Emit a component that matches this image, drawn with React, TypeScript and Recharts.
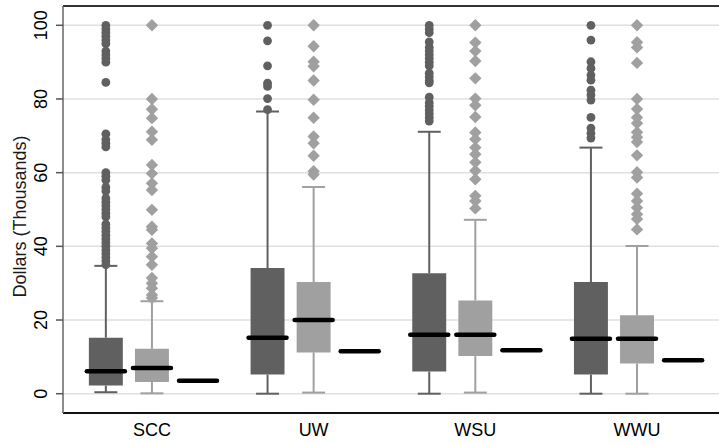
import React from "react";
import {
  ComposedChart,
  XAxis,
  YAxis,
  CartesianGrid,
  Scatter,
  ReferenceArea,
  ReferenceLine,
} from "recharts";

const categories = ["SCC", "UW", "WSU", "WWU"];

// dark boxes (circles as outliers)
const darkLow = [0.4, 0, 0, 0];
const darkQ1 = [2.2, 5.2, 6.0, 5.2];
const darkMedian = [6.1, 15.2, 16.0, 14.9];
const darkQ3 = [15.2, 34.1, 32.7, 30.3];
const darkHigh = [34.7, 76.6, 71.1, 66.8];
const darkOutliers = [
  [100, 99, 98, 97, 96, 95, 93, 92, 91, 90, 84.5, 70.5, 69, 68, 67, 60, 59, 58, 56, 55, 53, 52, 51, 50, 49, 48, 46, 45, 44, 43, 42, 41, 40, 39, 38, 37, 36, 35],
  [100, 95.8, 89, 84.3, 83.4, 80.1, 77.1],
  [100, 99, 98, 95.5, 94, 93, 92, 91, 90, 89, 87, 86, 85, 84.4, 80.5, 79, 78, 77, 76, 75, 74],
  [100, 96, 90.1, 88.3, 86.5, 85.1, 82.4, 81.1, 79.7, 75, 72.1, 70.7, 69.4],
];

// light boxes (diamonds as outliers)
const lightLow = [0.1, 0.3, 0.3, 0];
const lightQ1 = [3.2, 11.2, 10.2, 8.2];
const lightMedian = [7.0, 20.0, 16.0, 14.9];
const lightQ3 = [12.2, 30.3, 25.3, 21.3];
const lightHigh = [25.1, 56.1, 47.2, 40.1];
const lightOutliers = [
  [100, 80, 77.2, 74.8, 71.1, 68.9, 62.1, 59.8, 57.1, 55.3, 49.9, 45.3, 44.5, 40.8, 39.5, 37.2, 35, 31.4, 30, 28.6, 26.8, 26],
  [100, 94.3, 90.1, 88.9, 85, 79.8, 74.9, 69.8, 68, 64.6, 60.4, 59.5],
  [100, 95.3, 93, 90.3, 85.6, 80.1, 78.3, 75.1, 70.9, 69.1, 66.8, 65, 62.8, 60.5, 58.2, 53.7, 52.3, 50.3],
  [100, 95.4, 94, 89.8, 80, 77.3, 75, 73.4, 71, 69.6, 68.3, 64.7, 60.1, 58.7, 54.3, 52.3, 50.5, 48.7, 47.4, 44.6],
];

// third group: single value marker
const thirdValue = [3.5, 11.5, 11.8, 9.1];

const yTicks = [0, 20, 40, 60, 80, 100];

const DARK = "#606060";
const LIGHT = "#a0a0a0";
const FONT = "'Liberation Sans', Arial, sans-serif";

const Y_MIN = -5.24;
const Y_MAX = 105.24;
const SHIFT = 0.285; // slot spacing within a group
const BOX_HALF = 0.105;
const MED_HALF = 0.1175;
const CAP_HALF = 0.071;

const darkPoints = darkOutliers.flatMap((vals, i) =>
  vals.map((v) => ({ x: i + 1 - SHIFT, y: v }))
);
const lightPoints = lightOutliers.flatMap((vals, i) =>
  vals.map((v) => ({ x: i + 1, y: v }))
);

const Dot = (props: any) => (
  <circle cx={props.cx} cy={props.cy} r={4.4} fill={DARK} />
);

const Diamond = (props: any) => {
  const { cx, cy } = props;
  const s = 6.2;
  return (
    <polygon
      points={`${cx},${cy - s} ${cx + s},${cy} ${cx},${cy + s} ${cx - s},${cy}`}
      fill={LIGHT}
    />
  );
};

const YTick = (props: any) => {
  const { x, y, payload } = props;
  return (
    <text
      x={x - 15}
      y={y}
      transform={`rotate(-90 ${x - 15} ${y})`}
      textAnchor="middle"
      dominantBaseline="central"
      fill="#000"
      fontSize={18}
      fontFamily={FONT}
    >
      {payload.value}
    </text>
  );
};

const XTick = (props: any) => {
  const { x, y, payload } = props;
  return (
    <text
      x={x}
      y={y + 23}
      textAnchor="middle"
      fill="#000"
      fontSize={18}
      fontFamily={FONT}
    >
      {categories[payload.value - 1]}
    </text>
  );
};

const boxParts = (
  center: number,
  low: number,
  q1: number,
  med: number,
  q3: number,
  high: number,
  color: string,
  key: string
) => [
  <ReferenceLine
    key={key + "wl"}
    segment={[{ x: center, y: low }, { x: center, y: q1 }]}
    stroke={color}
    strokeWidth={2}
  />,
  <ReferenceLine
    key={key + "wh"}
    segment={[{ x: center, y: q3 }, { x: center, y: high }]}
    stroke={color}
    strokeWidth={2}
  />,
  <ReferenceLine
    key={key + "cl"}
    segment={[{ x: center - CAP_HALF, y: low }, { x: center + CAP_HALF, y: low }]}
    stroke={color}
    strokeWidth={2}
  />,
  <ReferenceLine
    key={key + "ch"}
    segment={[{ x: center - CAP_HALF, y: high }, { x: center + CAP_HALF, y: high }]}
    stroke={color}
    strokeWidth={2}
  />,
  <ReferenceArea
    key={key + "box"}
    x1={center - BOX_HALF}
    x2={center + BOX_HALF}
    y1={q1}
    y2={q3}
    fill={color}
    fillOpacity={1}
    stroke="none"
  />,
  <ReferenceLine
    key={key + "med"}
    segment={[{ x: center - MED_HALF, y: med }, { x: center + MED_HALF, y: med }]}
    stroke="#000"
    strokeWidth={4.5}
    strokeLinecap="round"
  />,
];

export default function App() {
  return (
    <div style={{ position: "absolute", left: 0, top: 0, background: "#fff" }}>
      <ComposedChart
        width={719}
        height={445}
        margin={{ top: 6, right: 0, bottom: 0, left: 0 }}
      >
        <CartesianGrid
          vertical={false}
          stroke="#e0e0e0"
          strokeWidth={1.5}
        />
        <XAxis
          type="number"
          dataKey="x"
          domain={[0.45, 4.507]}
          ticks={[1, 2, 3, 4]}
          allowDataOverflow
          height={32}
          tickLine={false}
          tickSize={0}
          tickMargin={0}
          axisLine={{ stroke: "#111", strokeWidth: 2 }}
          tick={<XTick />}
          interval={0}
        />
        <YAxis
          type="number"
          dataKey="y"
          domain={[Y_MIN, Y_MAX]}
          ticks={yTicks}
          allowDataOverflow
          width={63}
          tickSize={7}
          tickMargin={0}
          tickLine={{ stroke: "#555", strokeWidth: 1.5 }}
          axisLine={{ stroke: "#666", strokeWidth: 1.5 }}
          tick={<YTick />}
          interval={0}
          label={{
            value: "Dollars (Thousands)",
            angle: -90,
            position: "center",
            dx: -11.5,
            dy: 7,
            fill: "#1a1a1a",
            fontSize: 18,
            fontFamily: FONT,
          }}
        />
        <ReferenceLine y={Y_MAX} stroke="#333" strokeWidth={2} ifOverflow="visible" />
        {categories.flatMap((c, i) => [
          ...boxParts(i + 1 - SHIFT, darkLow[i], darkQ1[i], darkMedian[i], darkQ3[i], darkHigh[i], DARK, c + "d"),
          ...boxParts(i + 1, lightLow[i], lightQ1[i], lightMedian[i], lightQ3[i], lightHigh[i], LIGHT, c + "l"),
          <ReferenceLine
            key={c + "third"}
            segment={[
              { x: i + 1 + SHIFT - MED_HALF, y: thirdValue[i] },
              { x: i + 1 + SHIFT + MED_HALF, y: thirdValue[i] },
            ]}
            stroke="#000"
            strokeWidth={4.5}
            strokeLinecap="round"
          />,
        ])}
        <Scatter
          name="dark outliers"
          data={darkPoints}
          shape={<Dot />}
          isAnimationActive={false}
        />
        <Scatter
          name="light outliers"
          data={lightPoints}
          shape={<Diamond />}
          isAnimationActive={false}
        />
      </ComposedChart>
    </div>
  );
}
